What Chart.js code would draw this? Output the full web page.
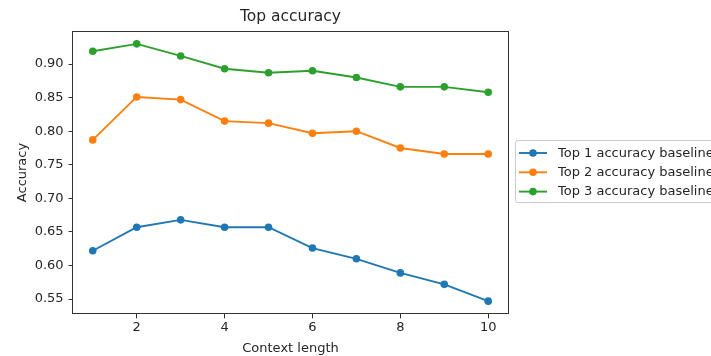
<!DOCTYPE html>
<html>
<head>
<meta charset="utf-8">
<title>Top accuracy</title>
<script src="https://cdn.jsdelivr.net/npm/chart.js@4"></script>
<style>
  html, body { margin: 0; padding: 0; background: #fff; overflow: hidden; }
  #wrap { width: 711px; height: 356px; }
</style>
</head>
<body>
<div id="wrap"><canvas id="accChart" width="711" height="356"></canvas></div>
<script>
// data
const contextLengths = [1, 2, 3, 4, 5, 6, 7, 8, 9, 10];
const top1 = [0.622, 0.657, 0.668, 0.657, 0.657, 0.626, 0.610, 0.589, 0.572, 0.547];
const top2 = [0.787, 0.851, 0.847, 0.815, 0.812, 0.797, 0.800, 0.775, 0.766, 0.766];
const top3 = [0.919, 0.930, 0.912, 0.893, 0.887, 0.890, 0.880, 0.866, 0.866, 0.858];
const seriesNames = ['Top 1 accuracy baseline', 'Top 2 accuracy baseline', 'Top 3 accuracy baseline'];
const seriesColors = ['#1f77b4', '#ff7f0e', '#2ca02c'];
const xTicks = [2, 4, 6, 8, 10];
const yTicks = [0.55, 0.60, 0.65, 0.70, 0.75, 0.80, 0.85, 0.90];

const FONT = 'DejaVu Sans';
const TEXT = '#262626';
const SMALL = 13;   // ticks, axis titles, legend
const BIG = 15.5;   // chart title

// matplotlib style 5% margins around the data
const allY = top1.concat(top2, top3);
const yLo = Math.min(...allY), yHi = Math.max(...allY);
const xLo = Math.min(...contextLengths), xHi = Math.max(...contextLengths);
const yPad = (yHi - yLo) * 0.05, xPad = (xHi - xLo) * 0.05;

const toPoints = vals => contextLengths.map((c, i) => ({ x: c, y: vals[i] }));

// full box around the plot area
const frame = {
  id: 'frame',
  afterDatasetsDraw(chart) {
    const { left, right, top, bottom } = chart.chartArea;
    const ctx = chart.ctx;
    ctx.save();
    ctx.strokeStyle = '#333';
    ctx.lineWidth = 1;
    ctx.strokeRect(Math.round(left) - 0.5, Math.round(top) + 0.5,
                   Math.round(right - left) + 1, Math.round(bottom - top) - 1);
    ctx.restore();
  }
};

// legend sitting outside the axes on the right, clipped by the page edge
const sideLegend = {
  id: 'sideLegend',
  afterDraw(chart) {
    const ctx = chart.ctx;
    const bx = 515.5, by = 140.5, bw = 260, bh = 62, r = 2.5;
    ctx.save();
    ctx.beginPath();
    ctx.moveTo(bx + r, by);
    ctx.lineTo(bx + bw - r, by);
    ctx.arcTo(bx + bw, by, bx + bw, by + r, r);
    ctx.lineTo(bx + bw, by + bh - r);
    ctx.arcTo(bx + bw, by + bh, bx + bw - r, by + bh, r);
    ctx.lineTo(bx + r, by + bh);
    ctx.arcTo(bx, by + bh, bx, by + bh - r, r);
    ctx.lineTo(bx, by + r);
    ctx.arcTo(bx, by, bx + r, by, r);
    ctx.closePath();
    ctx.fillStyle = 'rgba(255,255,255,0.8)';
    ctx.fill();
    ctx.strokeStyle = '#cccccc';
    ctx.stroke();

    ctx.font = SMALL + 'px "' + FONT + '"';
    ctx.textBaseline = 'middle';
    chart.data.datasets.forEach((ds, i) => {
      const y = 153 + i * 19.3;
      ctx.strokeStyle = ds.borderColor;
      ctx.lineWidth = ds.borderWidth;
      ctx.beginPath();
      ctx.moveTo(519, y);
      ctx.lineTo(547, y);
      ctx.stroke();
      ctx.fillStyle = ds.backgroundColor;
      ctx.beginPath();
      ctx.arc(533, y, ds.pointRadius, 0, Math.PI * 2);
      ctx.fill();
      ctx.fillStyle = TEXT;
      ctx.fillText(ds.label, 558, y + 0.5);
    });
    ctx.restore();
  }
};

const ctx = document.getElementById('accChart').getContext('2d');
new Chart(ctx, {
  type: 'line',
  data: {
    datasets: [top1, top2, top3].map((vals, i) => ({
      label: seriesNames[i],
      data: toPoints(vals),
      borderColor: seriesColors[i],
      backgroundColor: seriesColors[i],
      borderWidth: 1.9,
      pointRadius: 3.8,
      pointBorderWidth: 0,
      pointHoverRadius: 3.8,
      tension: 0,
      fill: false,
    })),
  },
  options: {
    responsive: false,
    animation: false,
    devicePixelRatio: 1,
    layout: { padding: { left: 0, right: 203, top: 0, bottom: 0 } },
    plugins: {
      legend: { display: false },
      tooltip: { enabled: false },
      title: {
        display: true,
        text: 'Top accuracy',
        fullSize: false,
        color: TEXT,
        font: { family: FONT, size: BIG, weight: 'normal' },
        padding: { top: 8, bottom: 4.4 },
      },
    },
    scales: {
      x: {
        type: 'linear',
        min: xLo - xPad,
        max: xHi + xPad,
        afterBuildTicks: s => { s.ticks = xTicks.map(v => ({ value: v })); },
        afterFit: s => { s.height = 42; },
        grid: { drawOnChartArea: false, drawTicks: true, tickLength: 4.4, tickColor: '#333', tickWidth: 1 },
        border: { display: false },
        ticks: { padding: 1.5, color: TEXT, font: { family: FONT, size: SMALL }, maxRotation: 0, callback: v => String(v) },
        title: { display: true, text: 'Context length', color: TEXT, font: { family: FONT, size: SMALL }, padding: { top: 0, bottom: 0 } },
      },
      y: {
        type: 'linear',
        min: yLo - yPad,
        max: yHi + yPad,
        afterBuildTicks: s => { s.ticks = yTicks.map(v => ({ value: v })); },
        afterFit: s => { s.width = 73; },
        grid: { drawOnChartArea: false, drawTicks: true, tickLength: 4.4, tickColor: '#333', tickWidth: 1 },
        border: { display: false },
        ticks: { padding: 5, color: TEXT, font: { family: FONT, size: SMALL }, callback: v => v.toFixed(2) },
        title: { display: true, text: 'Accuracy', color: TEXT, font: { family: FONT, size: SMALL }, padding: { top: 15, bottom: 0 } },
      },
    },
  },
  plugins: [frame, sideLegend],
});
</script>
</body>
</html>
